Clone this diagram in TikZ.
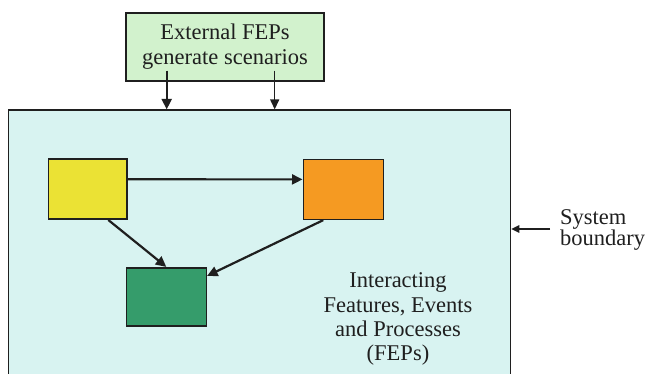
\documentclass[tikz,border=0pt]{standalone}
\usepackage{fontspec}
\setmainfont{Liberation Serif}
\usetikzlibrary{arrows.meta,calc}
\definecolor{sysfill}{HTML}{D8F3F1}
\definecolor{extfill}{HTML}{D2F2CD}
\definecolor{yelfill}{HTML}{EBE234}
\definecolor{orafill}{HTML}{F59A22}
\definecolor{grnfill}{HTML}{359C6B}
\definecolor{edge}{HTML}{1F1F1F}
\tikzset{
  box/.style={draw=edge, line width=1.6pt, inner sep=0pt},
  txt/.style={font=\fontsize{22.5}{24.3}\selectfont, text=edge},
  thick arrow/.style={draw=edge, line width=2.2pt, -{Triangle[length=10.5pt,width=10pt]}},
  thin arrow/.style={draw=edge, line width=1.5pt, -{Triangle[length=10pt,width=9pt]}},
  bnd arrow/.style={draw=edge, line width=1.2pt, -{Triangle[length=8pt,width=7.5pt]}},
}
\begin{document}
\begin{tikzpicture}[x=1pt,y=-1pt]
\useasboundingbox (0,0) rectangle (649,373);
\begin{scope}
\clip (0,0) rectangle (649,373);
\node[box, line width=1.2pt, fill=sysfill, minimum width=502.4pt, minimum height=300pt] (sys) at (259.5,260) {};
\end{scope}
\node[box, fill=extfill, minimum width=198pt, minimum height=68pt, txt, align=center] (ext) at (225,46.7) {External FEPs\\generate scenarios};
\node[box, fill=yelfill, minimum width=78.7pt, minimum height=60pt] (yel) at (87.65,189.2) {};
\node[box, fill=orafill, minimum width=80pt, minimum height=60pt] (ora) at (343.3,189.3) {};
\node[box, fill=grnfill, minimum width=80pt, minimum height=58pt] (grn) at (166.3,296.7) {};
\node[txt, align=center, inner sep=0pt] (fep) at (398,319.2) {Interacting\\Features, Events\\and Processes\\(FEPs)};
\node[txt, align=left, inner sep=0pt, anchor=west, font=\fontsize{22.5}{19.3}\selectfont] (bnd) at (560,230.2) {System\\boundary};
\coordinate (s1) at (166.7,70.7);
\coordinate (s2) at (274.7,70.7);
\coordinate (s3) at (550,229);
\draw[thick arrow] (s1) -- (s1 |- sys.north);
\draw[thin arrow] (s2) -- (s2 |- sys.north);
\draw[bnd arrow] (s3) -- (s3 -| sys.east);
\draw[thick arrow] ([yshift=9.9pt]yel.east) -- ([yshift=9.9pt]ora.west);
\draw[thick arrow] ([xshift=20.7pt]yel.south) -- (grn.north);
\draw[thick arrow] ([xshift=-20pt]ora.south) -- ([yshift=-9pt]grn.north east);
\end{tikzpicture}
\end{document}
